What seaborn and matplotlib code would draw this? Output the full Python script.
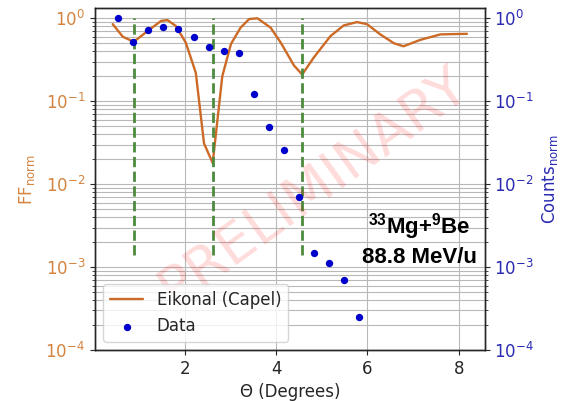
import matplotlib
matplotlib.use("Agg")
import matplotlib.pyplot as plt
import seaborn as sns

# Eikonal (Capel) form factor, normalised
theta_fit = [0.42, 0.64, 0.88, 1.18, 1.48, 1.62, 1.80, 2.02, 2.24, 2.42, 2.61,
             2.82, 3.01, 3.22, 3.41, 3.59, 3.88, 4.10, 4.39, 4.57, 4.83, 5.19,
             5.48, 5.77, 5.99, 6.28, 6.58, 6.79, 7.16, 7.60, 8.18]
ff_norm = [0.85, 0.60, 0.52, 0.70, 0.93, 0.95, 0.81, 0.51, 0.22, 0.031, 0.018,
           0.20, 0.49, 0.77, 0.98, 1.00, 0.77, 0.51, 0.27, 0.21, 0.34, 0.61,
           0.82, 0.90, 0.85, 0.64, 0.50, 0.46, 0.55, 0.64, 0.65]

# Measured counts, normalised
theta_data = [0.54, 0.87, 1.20, 1.53, 1.86, 2.19, 2.52, 2.85, 3.18, 3.51, 3.84,
              4.17, 4.50, 4.83, 5.16, 5.49, 5.82]
counts_norm = [1.0, 0.52, 0.73, 0.78, 0.74, 0.59, 0.45, 0.40, 0.38, 0.123, 0.049,
               0.026, 0.0071, 0.0015, 0.00112, 0.0007, 0.00025]

# Diffraction minima of the form factor
minima = [0.88, 2.61, 4.57]

sns.set_theme(style="ticks")
plt.rcParams["font.family"] = ["DejaVu Sans"]
plt.rcParams["mathtext.rm"] = "Liberation Sans:bold"
plt.rcParams["mathtext.bf"] = "Liberation Sans:bold"
plt.rcParams["axes.linewidth"] = 1.0

ff_color = "#cc6a26"
ff_text = "#d4843f"
data_color = "mediumblue"
data_text = "#2b2bb3"

fig = plt.figure(figsize=(5.65, 4.01), dpi=100)
ax = fig.add_axes([0.168, 0.127, 0.690, 0.853])

ax.set_yscale("log")
ax.grid(True, which="both", color="#b8b8b8", lw=0.8)
ax.set_axisbelow(True)

sns.lineplot(x=theta_fit, y=ff_norm, ax=ax, color=ff_color, lw=1.7,
             sort=False, estimator=None, label="Eikonal (Capel)")
ax.vlines(minima, 1.4e-3, 1.0, colors="#4c8a3e", linestyles="--", lw=2)

ax.set_xlim(0.03, 8.57)
ax.set_ylim(1e-4, 1.33)
ax.set_xticks([2, 4, 6, 8])
ax.set_xlabel("\u0398 (Degrees)", fontsize=12, labelpad=4)
ax.set_ylabel(r"FF$_{\mathrm{norm}}$", fontsize=12, color=ff_text, labelpad=6)
ax.tick_params(axis="both", which="major", length=3.5, width=0.8, pad=3.5)
ax.tick_params(axis="both", which="minor", length=2, width=0.6)
ax.tick_params(axis="y", which="both", labelcolor=ff_text, labelsize=12)
ax.tick_params(axis="x", labelsize=12)
for side in ("top", "right"):
    ax.spines[side].set_visible(True)

ax2 = ax.twinx()
ax2.set_yscale("log")
sns.scatterplot(x=theta_data, y=counts_norm, ax=ax2, color=data_color, s=28,
                linewidth=0, label="Data")
ax2.set_ylim(1e-4, 1.33)
ax2.set_ylabel(r"Counts$_{\mathrm{norm}}$", fontsize=12, color=data_text,
               labelpad=4)
ax2.tick_params(axis="y", which="major", length=3.5, width=0.8, pad=3.5)
ax2.tick_params(axis="y", which="minor", length=2, width=0.6)
ax2.tick_params(axis="y", which="both", labelcolor=data_text, labelsize=12)

h1, l1 = ax.get_legend_handles_labels()
h2, l2 = ax2.get_legend_handles_labels()
ax.get_legend().remove()
ax2.legend(h1 + h2, l1 + l2, loc="lower left", fontsize=12, framealpha=0.8)

ax.text(0.56, 0.48, "PRELIMINARY", transform=ax.transAxes, rotation=36,
        fontsize=40, color="red", alpha=0.14, ha="center", va="center")

ax2.text(0.833, 0.342, r"$^{33}$Mg+$^{9}$Be", transform=ax.transAxes,
         ha="center", va="baseline", fontsize=16, fontweight="bold",
         family="Liberation Sans", math_fontfamily="custom", color="black")
ax2.text(0.833, 0.254, "88.8 MeV/u", transform=ax.transAxes,
         ha="center", va="baseline", fontsize=16, fontweight="bold",
         family="Liberation Sans", color="black")

fig.savefig("out.png", dpi=100)
